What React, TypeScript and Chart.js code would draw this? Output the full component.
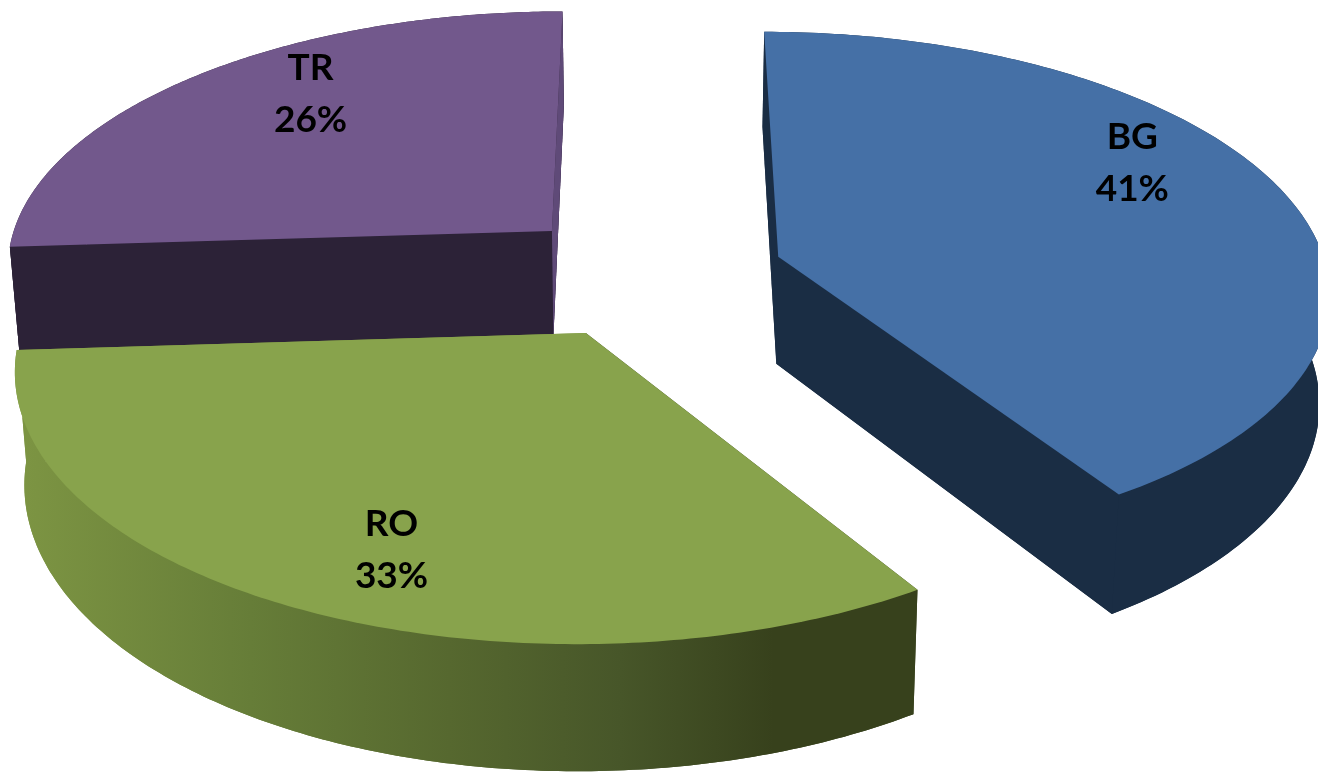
import React, { useEffect, useRef } from "react";
import { Chart, registerables } from "chart.js";

Chart.register(...registerables);

const categories = ["BG", "RO", "TR"];
const values = [41, 33, 26];
const explode = [73.5, 75, 75];
const topColors = ["#4570A6", "#88A34C", "#72588C"];
const wallColors = ["#1A2D44", "#5D6F31", "#2C2237"];
const startFaceColors = ["#1A2D44", "#37411C", "#2C2237"];
const endFaceColors = ["#1A2D44", "#7D9543", "#5F4A78"];
const roWallStops = ["#7D9543", "#667D38", "#56682F", "#475629", "#37411C", "#37411C"];
const roWallStopAt = [0, 0.26, 0.48, 0.67, 0.84, 1];
const drawOrder = [2, 0, 1];
// label anchor inside each slice: fraction of radius, degrees clockwise from the top
const labelRadius = [0.796, 0.782, 0.779];
const labelAngle = [60.43, 202.7, 320.6];

// camera of the tilted pie
const VANISH_X = 650;
const HORIZON_Y = -1800;
const PLANE_OFFSET = 8.076;
const PLANE_SLOPE = 5.97e-5;
const X_GAIN = 0.265;
const DEPTH_X = 0.985;
const DEPTH_Y = 1.052;

type Pt = [number, number];

const project = (X: number, Y: number, bottom: boolean): Pt => {
  const d = 1 / (PLANE_SLOPE * (Y + PLANE_OFFSET));
  const sx = X_GAIN * X * d;
  return bottom
    ? [VANISH_X + sx * DEPTH_X, HORIZON_Y + d * DEPTH_Y]
    : [VANISH_X + sx, HORIZON_Y + d];
};

const fillPoly = (ctx: CanvasRenderingContext2D, pts: Pt[], fill: any) => {
  ctx.beginPath();
  pts.forEach((p, i) => (i ? ctx.lineTo(p[0], p[1]) : ctx.moveTo(p[0], p[1])));
  ctx.closePath();
  ctx.fillStyle = fill;
  ctx.fill();
};

const pie3d = {
  id: "pie3d",
  beforeDatasetsDraw(chart: any) {
    const ctx: CanvasRenderingContext2D = chart.ctx;
    const arcs = chart.getDatasetMeta(0).data;
    drawOrder.forEach((i) => {
      const el = arcs[i];
      const { startAngle, endAngle, outerRadius } = el.getProps(["startAngle", "endAngle", "outerRadius"], true);
      const mid = (startAngle + endAngle) / 2;
      const off = el.options.offset / outerRadius;
      const ax = Math.cos(mid) * off;
      const ay = -Math.sin(mid) * off;
      const steps = 160;
      const arcOf = (bottom: boolean): Pt[] => {
        const out: Pt[] = [];
        for (let s = 0; s <= steps; s++) {
          const t = startAngle + ((endAngle - startAngle) * s) / steps;
          out.push(project(ax + Math.cos(t), ay - Math.sin(t), bottom));
        }
        return out;
      };
      const topArc = arcOf(false);
      const botArc = arcOf(true);
      const apexTop = project(ax, ay, false);
      const apexBot = project(ax, ay, true);

      let wall: any = wallColors[i];
      if (categories[i] === "RO") {
        const g = ctx.createLinearGradient(topArc[steps][0], 0, topArc[0][0], 0);
        roWallStops.forEach((c, k) => g.addColorStop(roWallStopAt[k], c));
        wall = g;
      }
      fillPoly(ctx, [apexTop, topArc[0], botArc[0], apexBot], startFaceColors[i]);
      fillPoly(ctx, [apexTop, topArc[steps], botArc[steps], apexBot], endFaceColors[i]);
      fillPoly(ctx, [apexBot, ...botArc], wall);
      fillPoly(ctx, [...topArc, ...[...botArc].reverse()], wall);
      if (categories[i] === "TR") {
        fillPoly(ctx, [apexTop, topArc[0], botArc[0], apexBot], startFaceColors[i]);
        fillPoly(ctx, [apexTop, topArc[steps], botArc[steps], apexBot], endFaceColors[i]);
      }
      fillPoly(ctx, [apexTop, ...topArc], el.options.backgroundColor);
    });

    ctx.fillStyle = "#000";
    ctx.font = "bold 37px Lato";
    ctx.textAlign = "center";
    ctx.textBaseline = "middle";
    const total = values.reduce((a, b) => a + b, 0);
    arcs.forEach((el: any, i: number) => {
      const { startAngle, endAngle, outerRadius } = el.getProps(["startAngle", "endAngle", "outerRadius"], true);
      const mid = (startAngle + endAngle) / 2;
      const off = el.options.offset / outerRadius;
      const a = (labelAngle[i] * Math.PI) / 180;
      const [x, y] = project(
        Math.cos(mid) * off + Math.sin(a) * labelRadius[i],
        -Math.sin(mid) * off + Math.cos(a) * labelRadius[i],
        false
      );
      ctx.fillText(categories[i], x, y - 25);
      ctx.fillText(`${Math.round((values[i] / total) * 100)}%`, x, y + 27);
    });
    return false;
  },
};

export default function App() {
  const ref = useRef<HTMLCanvasElement>(null);
  useEffect(() => {
    document.body.style.margin = "0";
    document.body.style.background = "#fff";
    const chart = new Chart(ref.current as HTMLCanvasElement, {
      type: "pie",
      data: {
        labels: categories,
        datasets: [{ data: values, backgroundColor: topColors, borderWidth: 0, offset: explode }],
      },
      options: {
        responsive: false,
        animation: false,
        radius: 300,
        events: [],
        plugins: { legend: { display: false }, tooltip: { enabled: false } },
      } as any,
      plugins: [pie3d as any],
    });
    return () => chart.destroy();
  }, []);
  return <canvas ref={ref} width={1318} height={772} style={{ display: "block" }} />;
}
